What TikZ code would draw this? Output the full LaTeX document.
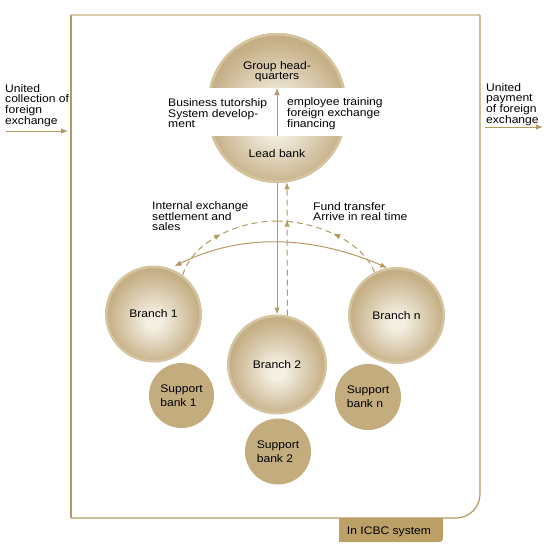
\documentclass[tikz,border=0pt]{standalone}
\usepackage{fontspec}
\setmainfont{Liberation Sans}[FakeStretch=1.1]
\usetikzlibrary{arrows.meta,decorations.markings}
\definecolor{gold}{HTML}{B49A62}
\definecolor{lightgold}{HTML}{D8CCAA}
\definecolor{ringc}{HTML}{D4C5A0}
\definecolor{tanc}{HTML}{B29862}
\definecolor{midc}{HTML}{C6B088}
\definecolor{creamc}{HTML}{F4EFE2}
\definecolor{suppc}{HTML}{C3AD7F}
\definecolor{tabc}{HTML}{BBA068}
\pgfdeclareradialshading{ballshade}{\pgfpoint{0bp}{-4bp}}{color(0bp)=(creamc); color(4bp)=(creamc); color(24bp)=(midc); color(44bp)=(tanc); color(50bp)=(tanc)}
\tikzset{
  txt/.style={inner sep=0pt, align=left, font=\fontsize{11}{10}\selectfont},
  branch/.style={circle, shade, shading=ballshade, draw=ringc, line width=2.5pt, inner sep=0pt, font=\fontsize{11}{10}\selectfont},
  support/.style={circle, fill=suppc, inner sep=0pt, minimum size=66pt, align=left, font=\fontsize{11}{14}\selectfont},
  conn/.style={draw=gold, line width=1pt},
  tipa/.style={-{Latex[length=7pt,width=5.5pt]}},
  dconn/.style={draw=gold, line width=1pt, dash pattern=on 6pt off 4pt},
  midarrow/.style={postaction={decorate}, decoration={markings, mark=at position #1 with {\arrow{Latex[length=7pt,width=5.5pt]}}}},
}
\begin{document}
\begin{tikzpicture}[x=1pt, y=-1pt]
\useasboundingbox (0,0) rectangle (550,554);
% frame
\draw[lightgold, line width=2pt] (71,15) -- (480,15);
\draw[gold, line width=1.5pt] (71,15) -- (71,518);
\draw[gold, line width=1.2pt] (480,15) -- (480,494) .. controls (480,507.3) and (469.3,518) .. (456,518) -- (71,518);
% tab
\fill[tabc] (339,518) -- (443,518) -- (443,535) .. controls (443,542) .. (436,542) -- (339,542) -- cycle;
\node[txt] (tab) at (389,531.5) {In ICBC system};
% head-quarters segment
\begin{scope}
  \clip (200,20) rectangle (360,87);
  \shade[shading=ballshade] (277,102) circle[radius=69pt];
  \draw[ringc, line width=2.5pt] (277,102) circle[radius=67.75pt];
\end{scope}
\node[txt, align=center] (hq) at (277,72) {Group head-\\quarters};
% lead bank segment
\begin{scope}
  \clip (200,136) rectangle (360,190);
  \shade[shading=ballshade] (277,114) circle[radius=69pt];
  \draw[ringc, line width=2.5pt] (277,114) circle[radius=67.75pt];
\end{scope}
\node[txt] (lb) at (277,153.5) {Lead bank};
% texts
\node[txt, anchor=north west, font=\fontsize{11}{10.7}\selectfont] (lefttxt) at (5,84) {United\\collection of\\foreign\\exchange};
\node[txt, anchor=north west, font=\fontsize{11}{10.7}\selectfont] (righttxt) at (486,83) {United\\payment\\of foreign\\exchange};
\node[txt, anchor=north west] (bt) at (168,98) {Business tutorship\\System develop-\\ment};
\node[txt, anchor=north west] (et) at (287,97) {employee training\\foreign exchange\\financing};
\node[txt, anchor=north west] (ie) at (152,201.5) {Internal exchange\\settlement and\\sales};
\node[txt, anchor=north west] (ft) at (313,202.5) {Fund transfer\\Arrive in real time};
% branches
\node[branch, minimum size=94.5pt] (b1) at (153.5,314) {Branch 1};
\node[branch, minimum size=97.5pt] (b2) at (277,364.5) {Branch 2};
\node[branch, minimum size=94.5pt] (bn) at (396.5,315.5) {Branch n};
% support banks
\node[support, minimum size=65pt] (s1) at (181.5,395.5) {Support\\bank 1};
\node[support] (s2) at (278,451.5) {Support\\bank 2};
\node[support] (sn) at (368,397) {Support\\bank n};
% coordinates
\coordinate (hqc) at (277,88);
\coordinate (lbc) at (277,136);
\coordinate (lbb) at (277,183);
\coordinate (lbb2) at (287,182.3);
\coordinate (apex) at (277,221);
\coordinate (la1) at (6,131);
\coordinate (la2) at (68,131);
\coordinate (ra1) at (485,127);
\coordinate (ra2) at (543,127);
% connectors
\draw[conn, tipa] (la1) -- (la2);
\draw[conn, tipa] (ra1) -- (ra2);
\draw[conn, tipa] (lbc) -- (hqc);
\draw[conn, tipa] (lbb) -- (b2.north);
\draw[dconn, tipa, midarrow=0.72] (b2.78.5) -- (lbb2);
\draw[conn, {Latex[length=7pt,width=5.5pt]}-{Latex[length=7pt,width=5.5pt]}, shorten <=5pt] (b1.70) .. controls (240,233.8) and (310.7,234.7) .. (bn.101);
\draw[dconn, midarrow=0.5] (b1.53) .. controls (193,240) and (240,221) .. (apex);
\draw[dconn, midarrow=0.5] (bn.117) .. controls (362,240) and (314,221) .. (apex);
\end{tikzpicture}
\end{document}
